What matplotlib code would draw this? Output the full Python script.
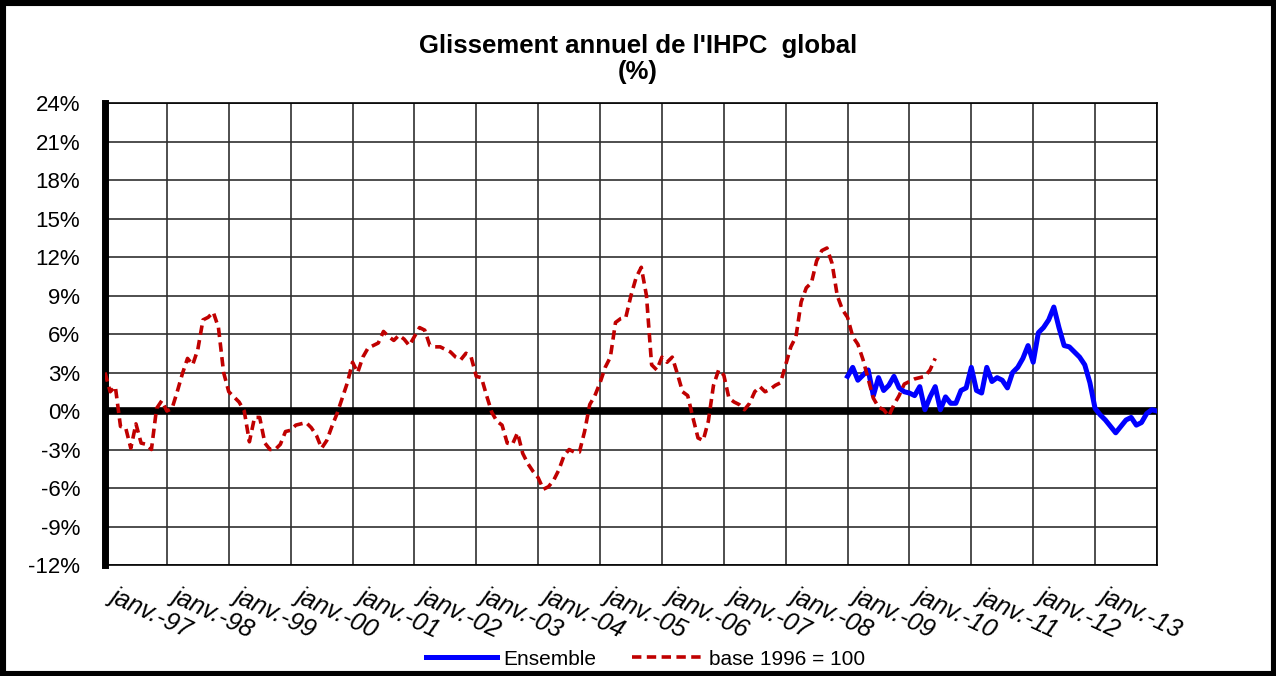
import matplotlib
matplotlib.use("Agg")
import matplotlib.pyplot as plt
from matplotlib.patches import Rectangle
from matplotlib.transforms import ScaledTranslation

plt.rcParams['font.family'] = ['Liberation Sans', 'DejaVu Sans']

# monthly values, month 0 = janv. 1996
base_1996 = [3.0, 1.5, 1.9, -1.2, -1.3, -2.9, -1.0, -2.5, -2.6, -3.0, 0.2, 0.8,
             0.0, 0.2, 1.5, 2.9, 4.1, 3.6, 4.8, 7.1, 7.3, 7.7, 6.5, 3.0,
             1.5, 1.1, 0.7, 0.0, -2.4, -0.5, -0.5, -2.5, -3.0, -3.0, -2.6, -1.6,
             -1.5, -1.1, -1.0, -0.9, -1.3, -1.9, -2.9, -2.3, -1.2, -0.2, 1.0, 2.2,
             3.8, 3.0, 4.2, 4.9, 5.1, 5.3, 6.2, 5.8, 5.5, 5.9, 5.6, 5.1,
             5.8, 6.5, 6.3, 5.1, 5.0, 5.0, 4.8, 4.6, 4.2, 4.0, 4.5, 4.2,
             2.7, 2.6, 1.2, -0.1, -0.8, -1.1, -2.5, -2.6, -1.7, -3.3, -4.1, -4.7,
             -5.2, -6.1, -5.9, -5.4, -4.6, -3.5, -3.0, -3.2, -3.2, -1.6, 0.5, 1.2,
             2.2, 3.4, 4.2, 6.9, 7.2, 7.3, 9.0, 10.4, 11.2, 9.0, 3.6, 3.2,
             4.2, 3.8, 4.2, 2.9, 1.5, 1.2, -0.5, -2.1, -2.3, -0.8, 2.0, 3.2,
             2.8, 1.0, 0.7, 0.5, 0.1, 0.6, 1.5, 1.9, 1.5, 1.7, 2.0, 2.2,
             3.6, 5.0, 5.8, 8.5, 9.6, 10.0, 11.7, 12.5, 12.7, 11.5, 9.0, 7.9,
             7.3, 5.8, 5.2, 4.0, 2.5, 1.0, 0.3, 0.1, -0.4, 0.5, 1.2, 2.1,
             2.3, 2.5, 2.6, 2.7, 3.2, 4.1]
ensemble_start = 144  # janv. 2008
ensemble = [2.7, 3.4, 2.4, 2.8, 3.2, 1.2, 2.6, 1.6, 2.0, 2.7, 1.8, 1.5,
            1.4, 1.2, 1.9, 0.1, 1.1, 1.9, 0.1, 1.1, 0.6, 0.6, 1.6, 1.8,
            3.4, 1.6, 1.4, 3.4, 2.3, 2.6, 2.4, 1.8, 3.0, 3.4, 4.1, 5.1,
            3.8, 6.1, 6.5, 7.1, 8.1, 6.5, 5.1, 5.0, 4.6, 4.2, 3.6, 2.2,
            0.2, -0.3, -0.7, -1.2, -1.7, -1.2, -0.7, -0.5, -1.1, -0.9, -0.2, 0.1,
            0.0]

years = ['97', '98', '99', '00', '01', '02', '03', '04', '05', '06', '07',
         '08', '09', '10', '11', '12', '13']
xlabels = [''] + ['janv.-' + y for y in years]
yticks = list(range(-12, 25, 3))

fig = plt.figure(figsize=(12.76, 6.76), dpi=100)
ax = fig.add_axes([0.0823, 0.1642, 0.8244, 0.6834])

x_base = list(range(len(base_1996)))
x_ens = list(range(ensemble_start, ensemble_start + len(ensemble)))

ax.plot(x_ens, ensemble, color='#0000FF', lw=3.6, label='Ensemble', zorder=4)
ax.plot(x_base, base_1996, color='#C00000', lw=2.6, dashes=(2.6, 1.5),
        label='base 1996 = 100', zorder=5)
ax.axhline(0, color='black', lw=5.5, zorder=3)

ax.set_xlim(0, 204)
ax.set_ylim(-12, 24)
ax.set_yticks(yticks)
ax.set_yticklabels([f'{v}%' for v in yticks], fontsize=16)
ax.set_xticks(range(0, 205, 12))
ax.set_xticklabels(xlabels, fontsize=18, style='italic')
ax.tick_params(axis='both', length=0)
ax.tick_params(axis='y', pad=18)
ax.tick_params(axis='x', pad=0)
ax.grid(True, color='#303030', lw=1.2)
ax.set_axisbelow(True)

for lab in ax.get_xticklabels():
    lab.set_rotation(-25)
    lab.set_ha('right')
    lab.set_va('top')
    lab.set_rotation_mode('anchor')
    lab.set_transform(lab.get_transform() +
                      ScaledTranslation(0.29, -0.55, fig.dpi_scale_trans))

for side in ['top', 'right', 'bottom']:
    ax.spines[side].set_linewidth(1.2)
ax.spines['left'].set_linewidth(5)

fig.text(0.5, 0.932, "Glissement annuel de l'IHPC  global", ha='center',
         va='center', fontsize=18.5, fontweight='bold')
fig.text(0.5, 0.893, "(%)", ha='center', va='center', fontsize=18.5,
         fontweight='bold')

fig.legend(loc='center', bbox_to_anchor=(0.506, 0.025), ncol=2, frameon=False,
           fontsize=15, handlelength=3.4, handletextpad=0.3, columnspacing=1.7)

fig.patches.append(Rectangle((0, 0), 1, 1, transform=fig.transFigure,
                             fill=False, edgecolor='black', lw=8))

fig.savefig('out.png', dpi=100)
